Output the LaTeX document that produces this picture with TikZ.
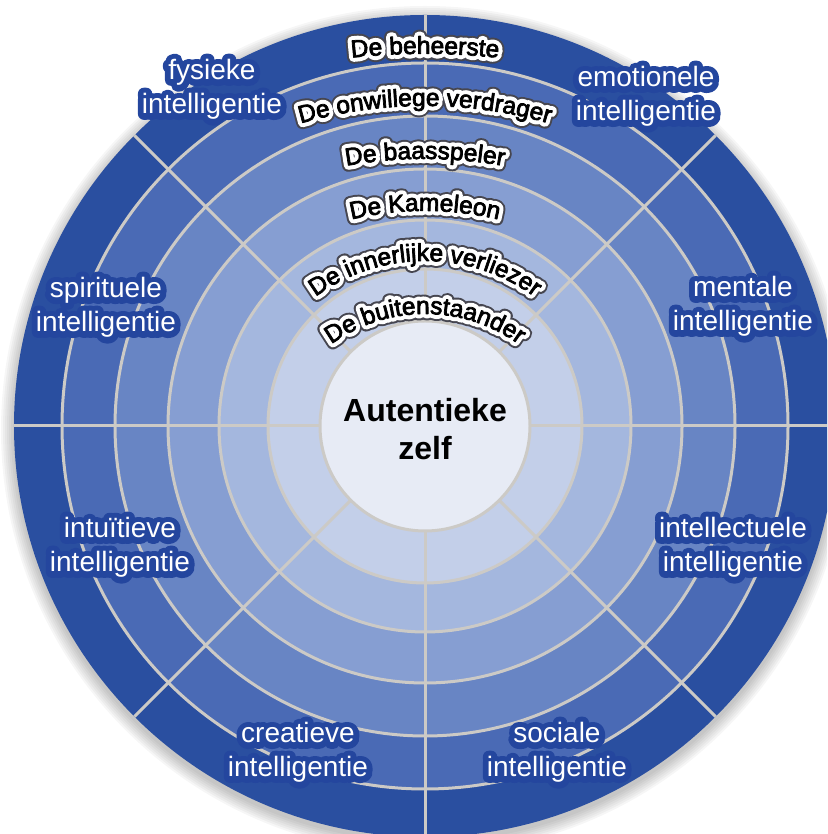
\documentclass[tikz,border=0pt]{standalone}
\usepackage{fontspec}
\setmainfont{Liberation Sans}
\newfontfamily\shadefont[FakeBold=52]{Liberation Sans}
\newfontfamily\halofont[FakeBold=36]{Liberation Sans}
\newfontfamily\glowfont[FakeBold=42]{Liberation Sans}
\newfontfamily\inkfont[FakeBold=3]{Liberation Sans}
\usetikzlibrary{decorations.text}
\definecolor{band1}{RGB}{42,79,160}
\definecolor{band2}{RGB}{74,106,181}
\definecolor{band3}{RGB}{104,133,196}
\definecolor{band4}{RGB}{134,158,210}
\definecolor{band5}{RGB}{164,183,222}
\definecolor{band6}{RGB}{195,207,233}
\definecolor{core}{RGB}{231,235,245}
\definecolor{sep}{RGB}{204,202,198}
\definecolor{glow}{RGB}{36,70,158}
\definecolor{shade}{RGB}{70,70,80}
\tikzset{
  sepline/.style={draw=sep, line width=3},
  lab/.style={font=\fontsize{28}{34}\selectfont, align=center, text=white, inner sep=0},
  labhalo/.style={font=\glowfont\fontsize{28}{34}\selectfont, align=center, text=glow, inner sep=0},
  coretext/.style={font=\bfseries\fontsize{32}{38}\selectfont, align=center, text=black, inner sep=0}
}
\newcommand\ringlabel[3]{%
  \pgfmathsetmacro\rlYc{834-#1-#2}%
  \path[decorate,decoration={text along path,text align=center,text color=shade,
      text={|\shadefont\fontsize{24.5}{29}\selectfont|#3}}]
    ([shift={(425,\rlYc)}]170:#2) arc[start angle=170,end angle=10,radius=#2];
  \path[decorate,decoration={text along path,text align=center,text color=white,
      text={|\halofont\fontsize{24.5}{29}\selectfont|#3}}]
    ([shift={(425,\rlYc)}]170:#2) arc[start angle=170,end angle=10,radius=#2];
  \path[decorate,decoration={text along path,text align=center,text color=black,
      text={|\inkfont\fontsize{24.5}{29}\selectfont|#3}}]
    ([shift={(425,\rlYc)}]170:#2) arc[start angle=170,end angle=10,radius=#2];
}
\begin{document}
\begin{tikzpicture}[x=1pt,y=1pt,line join=round]
\useasboundingbox (0,0) rectangle (827,834);
\clip (0,0) rectangle (827,834);
\coordinate (C) at (425,408);
% soft shadow
\foreach \r in {412,414,...,424}
  \fill[black,opacity=0.035] (425,404) circle[radius=\r];
% bands
\fill[band1] (C) circle[radius=411];
\fill[band2] (C) circle[radius=363];
\fill[band3] (C) circle[radius=310];
\fill[band4] (C) circle[radius=257];
\fill[band5] (C) circle[radius=206];
\fill[band6] (C) circle[radius=157];
\fill[core]  (C) circle[radius=105];
% spokes
\foreach \a in {0,45,...,315}
  \draw[sepline] (C) ++(\a:105) -- ++(\a:306);
% ring separators
\foreach \r in {363,310,257,206,157,105}
  \draw[sepline] (C) circle[radius=\r];
% ring labels
\ringlabel{54}{700}{De beheerste}
\ringlabel{106}{450}{De onwillege verdrager}
\ringlabel{159}{450}{De baasspeler}
\ringlabel{211}{320}{De Kameleon}
\ringlabel{261}{185}{De innerlijke verliezer}
\ringlabel{314}{160}{De buitenstaander}
% centre
\node[coretext] (core) at (425,404.7) {Autentieke\\zelf};
% intelligence labels
\node[labhalo] (fysh) at (212,744.3) {fysieke\\intelligentie};
\node[lab] (fys) at (212,744.3) {fysieke\\intelligentie};
\node[labhalo] (emoh) at (646,737.3) {emotionele\\intelligentie};
\node[lab] (emo) at (646,737.3) {emotionele\\intelligentie};
\node[labhalo] (spih) at (106,526.3) {spirituele\\intelligentie};
\node[lab] (spi) at (106,526.3) {spirituele\\intelligentie};
\node[labhalo] (menh) at (743,527.3) {mentale\\intelligentie};
\node[lab] (men) at (743,527.3) {mentale\\intelligentie};
\node[labhalo] (intuh) at (120,286.3) {intuïtieve\\intelligentie};
\node[lab] (intu) at (120,286.3) {intuïtieve\\intelligentie};
\node[labhalo] (inteh) at (733,286.3) {intellectuele\\intelligentie};
\node[lab] (inte) at (733,286.3) {intellectuele\\intelligentie};
\node[labhalo] (creh) at (298,81.3) {creatieve\\intelligentie};
\node[lab] (cre) at (298,81.3) {creatieve\\intelligentie};
\node[labhalo] (sozh) at (557,81.3) {sociale\\intelligentie};
\node[lab] (soz) at (557,81.3) {sociale\\intelligentie};
\end{tikzpicture}
\end{document}
